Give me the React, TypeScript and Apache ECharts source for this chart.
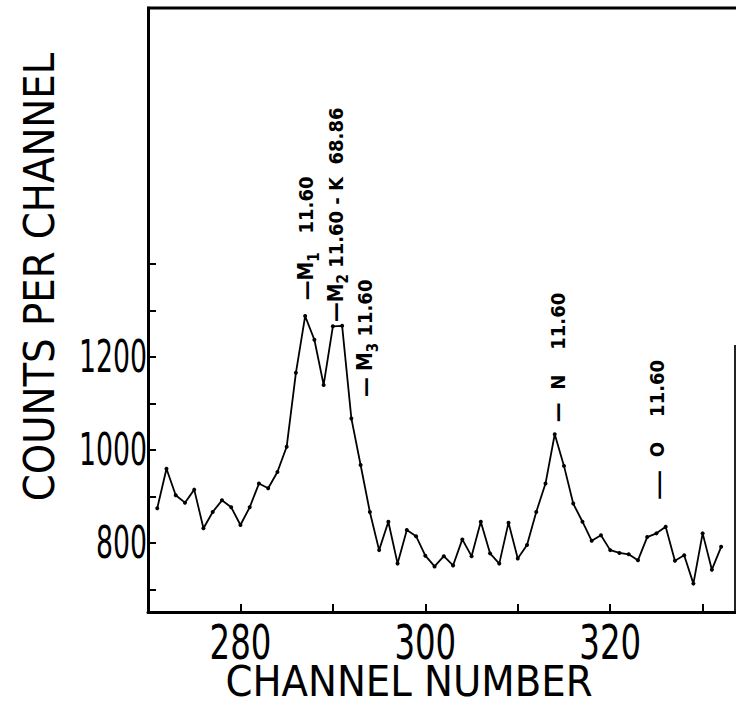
import React, { useEffect, useRef } from "react";
import * as echarts from "echarts";

// ---- data ----
const channels = [
  271, 272, 273, 274, 275, 276, 277, 278, 279, 280,
  281, 282, 283, 284, 285, 286, 287, 288, 289, 290,
  291, 292, 293, 294, 295, 296, 297, 298, 299, 300,
  301, 302, 303, 304, 305, 306, 307, 308, 309, 310,
  311, 312, 313, 314, 315, 316, 317, 318, 319, 320,
  321, 322, 323, 324, 325, 326, 327, 328, 329, 330,
  331, 332,
];
const counts = [
  875, 960, 903, 887, 915, 832, 867, 892, 877, 839,
  877, 928, 918, 953, 1007, 1166, 1288, 1237, 1140, 1266,
  1267, 1068, 968, 867, 785, 846, 756, 828, 815, 773,
  750, 772, 752, 808, 772, 846, 778, 756, 844, 767,
  796, 867, 928, 1034, 966, 885, 846, 805, 817, 785,
  779, 776, 763, 813, 821, 835, 762, 774, 713, 821,
  743, 792,
];
const xTickValues = [280, 290, 300, 310, 320, 330];
const xLabelValues = [280, 300, 320];
const yTickValues = [700, 800, 900, 1000, 1100, 1200, 1300, 1400];
const yLabelValues = [800, 1000, 1200];
const xMin = 270;
const xMax = 333.5;
const yMin = 652;
const yMax = 1950;

// peak annotations: anchor (channel, count) = bottom of the dash
const annChannels = [287.1, 290.3, 293.5, 314.3, 325.1];
const annCounts = [1322, 1275, 1114, 1060, 892];
const annTexts = [
  "{d|—}{m|M}{s|1}{t|   11.60}",
  "{d|—}{m|M}{s|2}{t| 11.60 - K  68.86}",
  "{d|—}{t| }{m|M}{s|3}{t| 11.60}",
  "{d|—}{t|  N    11.60}",
  "{D|—}{t|  O    11.60}",
];

const FONT = '"DejaVu Sans Condensed", "DejaVu Sans", sans-serif';

export default function App() {
  const ref = useRef<HTMLDivElement>(null);
  useEffect(() => {
    document.body.style.margin = "0";
    const chart = echarts.init(ref.current!, null, { renderer: "svg" });
    chart.setOption({
      animation: false,
      backgroundColor: "#fff",
      grid: { left: 148, right: 1, top: 8, bottom: 97 },
      xAxis: {
        type: "value",
        min: xMin,
        max: xMax,
        axisLine: { show: true, onZero: false, lineStyle: { color: "#000", width: 3 } },
        axisTick: {
          show: true,
          inside: true,
          length: 8,
          customValues: xTickValues,
          lineStyle: { color: "#000", width: 2 },
        },
        axisLabel: { show: false },
        splitLine: { show: false },
      },
      yAxis: {
        type: "value",
        min: yMin,
        max: yMax,
        axisLine: { show: true, onZero: false, lineStyle: { color: "#000", width: 3 } },
        axisTick: {
          show: true,
          inside: true,
          length: 8,
          customValues: yTickValues,
          lineStyle: { color: "#000", width: 2 },
        },
        axisLabel: { show: false },
        splitLine: { show: false },
      },
      series: [
        {
          type: "line",
          data: channels.map((c, i) => [c, counts[i]]),
          symbol: "circle",
          symbolSize: 4,
          showAllSymbol: true,
          lineStyle: { color: "#000", width: 1.8 },
          itemStyle: { color: "#000" },
        },
      ],
    });

    const toPx = (x: number, y: number) =>
      chart.convertToPixel({ gridIndex: 0 }, [x, y]) as number[];
    const origin = toPx(xMin, yMin);

    const xLabels = xLabelValues.map((v) => ({
      type: "text",
      x: toPx(v, yMin)[0],
      y: origin[1] + 31,
      scaleX: 0.75,
      style: {
        text: String(v),
        fontFamily: FONT,
        fontSize: 48,
        align: "center",
        verticalAlign: "middle",
        fill: "#000",
      },
    }));
    const yLabels = yLabelValues.map((v) => ({
      type: "text",
      x: origin[0] - 1,
      y: toPx(xMin, v)[1],
      scaleX: 0.66,
      style: {
        text: String(v),
        fontFamily: FONT,
        fontSize: 45,
        align: "right",
        verticalAlign: "middle",
        fill: "#000",
      },
    }));

    const annGraphics = annChannels.map((ch, i) => {
      const p = toPx(ch, annCounts[i]);
      return {
        type: "text",
        x: p[0],
        y: p[1],
        rotation: Math.PI / 2,
        style: {
          text: annTexts[i],
          align: "left",
          verticalAlign: "middle",
          fill: "#000",
          rich: {
            d: { fontFamily: FONT, fontSize: 22, fontWeight: "bold", lineHeight: 30, fill: "#000" },
            D: { fontFamily: FONT, fontSize: 34, lineHeight: 30, fill: "#000" },
            m: { fontFamily: FONT, fontSize: 21, fontWeight: "bold", lineHeight: 30, fill: "#000" },
            s: { fontFamily: FONT, fontSize: 15, fontWeight: "bold", lineHeight: 14, verticalAlign: "bottom", fill: "#000" },
            t: { fontFamily: FONT, fontSize: 20, fontWeight: "bold", lineHeight: 30, fill: "#000" },
          },
        },
      };
    });

    chart.setOption({
      graphic: [
        { type: "line", shape: { x1: 147, y1: 8, x2: 736, y2: 8 }, style: { stroke: "#000", lineWidth: 3 } },
        { type: "line", shape: { x1: 735, y1: 345, x2: 735, y2: 613 }, style: { stroke: "#222", lineWidth: 2 } },
        {
          type: "text",
          x: 39,
          y: 277,
          rotation: Math.PI / 2,
          style: {
            text: "COUNTS PER CHANNEL",
            fontFamily: FONT,
            fontSize: 43,
            align: "center",
            verticalAlign: "middle",
            fill: "#000",
          },
        },
        {
          type: "text",
          x: 409,
          y: 681,
          style: {
            text: "CHANNEL NUMBER",
            fontFamily: FONT,
            fontSize: 43,
            lineHeight: 44,
            align: "center",
            verticalAlign: "middle",
            fill: "#000",
          },
        },
        ...xLabels,
        ...yLabels,
        ...annGraphics,
      ],
    });
    return () => chart.dispose();
  }, []);
  return <div ref={ref} style={{ width: 736, height: 709 }} />;
}
